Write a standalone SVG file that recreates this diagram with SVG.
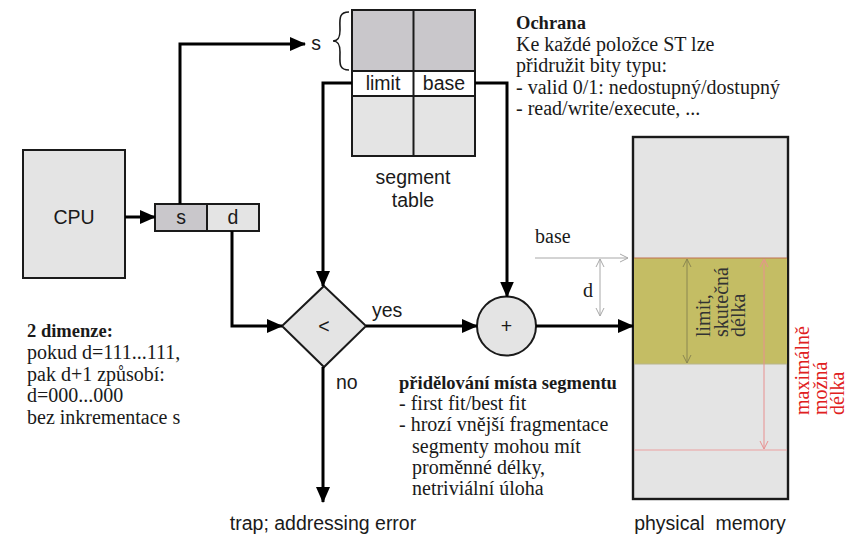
<svg xmlns="http://www.w3.org/2000/svg" width="861" height="535" viewBox="0 0 861 535">
  <style>
    .sans { font-family: "Liberation Sans", Arial, sans-serif; fill: #1a1a1a; font-size: 19.5px; }
    .serif { font-family: "Liberation Serif", "DejaVu Serif", serif; fill: #1a1a1a; font-size: 20px; }
    .bold { font-weight: bold; font-size: 18.5px; }
    .wire { fill: none; stroke: #000; stroke-width: 3; }
    .box { stroke: #1a1a1a; stroke-width: 2; }
    .dark { fill: #c9c7cb; }
    .light { fill: #e4e4e4; }
    .white { fill: #fff; }
  </style>
  <defs>
    <marker id="head" markerUnits="userSpaceOnUse" markerWidth="16" markerHeight="14" refX="15" refY="7" orient="auto">
      <path d="M0,0 L16,7 L0,14 Z" fill="#000"/>
    </marker>
    <marker id="vGray" markerUnits="userSpaceOnUse" markerWidth="10" markerHeight="10" refX="8" refY="5" orient="auto-start-reverse">
      <path d="M0,1 L8,5 L0,9" fill="none" stroke="#a8a8a8" stroke-width="1"/>
    </marker>
    <marker id="vOlive" markerUnits="userSpaceOnUse" markerWidth="10" markerHeight="10" refX="8" refY="5" orient="auto-start-reverse">
      <path d="M0,1 L8,5 L0,9" fill="none" stroke="#8a8650" stroke-width="1"/>
    </marker>
    <marker id="vRed" markerUnits="userSpaceOnUse" markerWidth="10" markerHeight="10" refX="8" refY="5" orient="auto-start-reverse">
      <path d="M0,1 L8,5 L0,9" fill="none" stroke="#e89090" stroke-width="1"/>
    </marker>
  </defs>

  <rect width="861" height="535" fill="#fff"/>

  <!-- CPU -->
  <g id="cpu">
    <rect x="23" y="150" width="102" height="128" class="box light"/>
    <text x="74" y="224" class="sans" text-anchor="middle">CPU</text>
  </g>

  <!-- logical address (s, d) -->
  <g id="address">
    <rect x="155" y="204" width="52" height="27" class="box dark"/>
    <rect x="207" y="204" width="52" height="27" class="box light"/>
    <text x="181" y="224" class="sans" text-anchor="middle">s</text>
    <text x="233" y="224" class="sans" text-anchor="middle">d</text>
  </g>

  <!-- segment table -->
  <g id="segment-table">
    <rect x="352" y="10" width="123" height="61" class="box dark"/>
    <rect x="352" y="71" width="123" height="25" class="box white"/>
    <rect x="352" y="96" width="123" height="60" class="box light"/>
    <line x1="413.5" y1="10" x2="413.5" y2="156" stroke="#1a1a1a" stroke-width="2"/>
    <text x="383" y="90" class="sans" text-anchor="middle">limit</text>
    <text x="444" y="90" class="sans" text-anchor="middle">base</text>
    <path d="M349,12 C338,12 340,20 340,30 C340,38 338,41 333,41 C338,41 340,44 340,52 C340,62 338,70 349,70" fill="none" stroke="#1a1a1a" stroke-width="1.6"/>
    <text x="316" y="50" class="sans" text-anchor="middle">s</text>
    <text x="413" y="184" class="sans" text-anchor="middle">segment</text>
    <text x="413" y="207" class="sans" text-anchor="middle">table</text>
  </g>

  <!-- limit comparison -->
  <g id="compare">
    <polygon points="324,286 366,326 324,367 282,326" class="box light"/>
    <text x="324" y="333" class="sans" font-size="20" text-anchor="middle">&lt;</text>
  </g>

  <!-- base + offset adder -->
  <g id="adder">
    <circle cx="506.5" cy="326" r="29.5" class="box light"/>
    <text x="506.5" y="333" class="sans" font-size="21" text-anchor="middle">+</text>
  </g>

  <!-- physical memory -->
  <g id="memory">
    <rect x="633" y="137" width="155" height="362" class="light" stroke="#1a1a1a" stroke-width="2.4"/>
    <rect x="634" y="258" width="153" height="106" fill="#c4bd64"/>
    <line x1="634" y1="258" x2="787" y2="258" stroke="#c07050" stroke-width="1"/>
    <line x1="634" y1="364" x2="787" y2="364" stroke="#b8b48a" stroke-width="1"/>
    <line x1="634" y1="450" x2="787" y2="450" stroke="#eba0a0" stroke-width="1"/>
    <line x1="687" y1="259" x2="687" y2="363" stroke="#8a8650" stroke-width="1" marker-start="url(#vOlive)" marker-end="url(#vOlive)"/>
    <line x1="764" y1="259" x2="764" y2="449" stroke="#e89090" stroke-width="1" marker-start="url(#vRed)" marker-end="url(#vRed)"/>
    <text transform="translate(710,337) rotate(-90)" class="serif" font-size="17.5">
      <tspan x="0" y="0" fill="#333">limit,</tspan>
      <tspan x="0" y="18" fill="#333">skutečná</tspan>
      <tspan x="0" y="35" fill="#333">délka</tspan>
    </text>
    <text x="710" y="530" class="sans" text-anchor="middle" style="white-space:pre">physical  memory</text>
  </g>

  <!-- memory annotations -->
  <g id="memory-notes">
    <line x1="535" y1="258" x2="628" y2="258" stroke="#a8a8a8" stroke-width="1" marker-end="url(#vGray)"/>
    <line x1="600" y1="259" x2="600" y2="316" stroke="#a8a8a8" stroke-width="1" marker-start="url(#vGray)" marker-end="url(#vGray)"/>
    <text x="535" y="243" class="serif" font-size="21">base</text>
    <text x="583" y="297" class="serif" font-size="21">d</text>
    <text transform="translate(809,415) rotate(-90)" class="serif" font-size="17.5">
      <tspan x="0" y="0" fill="#e02020">maximálně</tspan>
      <tspan x="0" y="18" fill="#e02020">možná</tspan>
      <tspan x="0" y="35" fill="#e02020">délka</tspan>
    </text>
  </g>

  <!-- connectors -->
  <g id="connectors">
    <path d="M125,217 H155" class="wire" marker-end="url(#head)"/>
    <path d="M180,204 V44 H305" class="wire" marker-end="url(#head)"/>
    <path d="M232,231 V326 H282" class="wire" marker-end="url(#head)"/>
    <path d="M352,83 H323 V286" class="wire" marker-end="url(#head)"/>
    <path d="M475,83 H507 V296.5" class="wire" marker-end="url(#head)"/>
    <path d="M366,326 H477" class="wire" marker-end="url(#head)"/>
    <path d="M536,326 H633" class="wire" marker-end="url(#head)"/>
    <path d="M323,367 V502" class="wire" marker-end="url(#head)"/>
    <text x="372" y="317" class="sans">yes</text>
    <text x="336" y="389" class="sans">no</text>
    <text x="323" y="530" class="sans" text-anchor="middle">trap; addressing error</text>
  </g>

  <!-- protection note -->
  <g id="note-protection">
    <text x="516" y="29" class="serif bold">Ochrana</text>
    <text x="516" y="51" class="serif">Ke každé položce ST lze</text>
    <text x="516" y="72" class="serif">přidružit bity typu:</text>
    <text x="516" y="94" class="serif">- valid 0/1: nedostupný/dostupný</text>
    <text x="516" y="115" class="serif">- read/write/execute, ...</text>
  </g>

  <!-- two-dimension note -->
  <g id="note-dimensions">
    <text x="27" y="337" class="serif bold">2 dimenze:</text>
    <text x="27" y="359" class="serif">pokud d=111...111,</text>
    <text x="27" y="381" class="serif">pak d+1 způsobí:</text>
    <text x="27" y="402" class="serif">d=000...000</text>
    <text x="27" y="424" class="serif">bez inkrementace s</text>
  </g>

  <!-- allocation note -->
  <g id="note-allocation">
    <text x="399" y="389" class="serif bold">přidělování místa segmentu</text>
    <text x="399" y="410" class="serif">- first fit/best fit</text>
    <text x="399" y="431" class="serif">- hrozí vnější fragmentace</text>
    <text x="412" y="453" class="serif">segmenty mohou mít</text>
    <text x="412" y="474" class="serif">proměnné délky,</text>
    <text x="412" y="495" class="serif">netriviální úloha</text>
  </g>
</svg>
